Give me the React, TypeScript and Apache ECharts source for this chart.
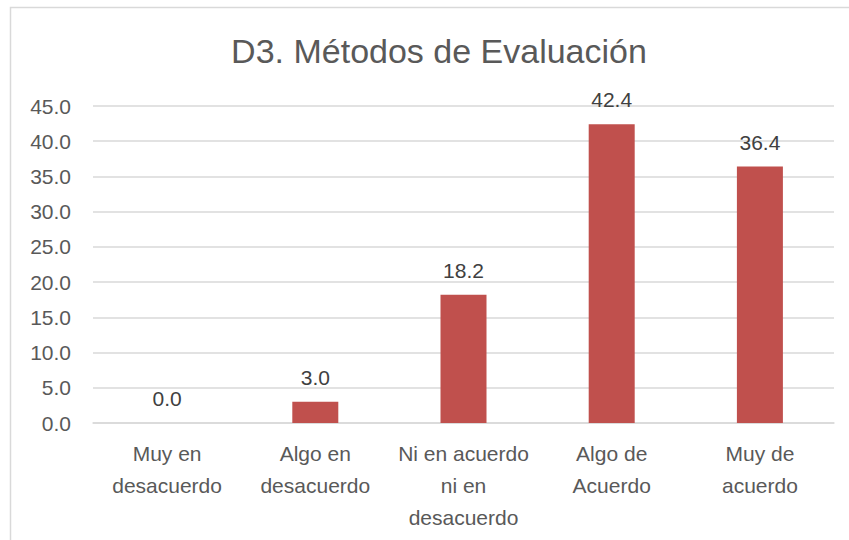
import React, { useEffect, useRef } from "react";
import * as echarts from "echarts";

const categories = [
  "Muy en\ndesacuerdo",
  "Algo en\ndesacuerdo",
  "Ni en acuerdo\nni en\ndesacuerdo",
  "Algo de\nAcuerdo",
  "Muy de\nacuerdo",
];
const values = [0.0, 3.0, 18.2, 42.4, 36.4];
const titleText = "D3. Métodos de Evaluación";
const yMin = 0;
const yMax = 45;
const yStep = 5;

const FONT = "'Liberation Sans', Arial, sans-serif";

export default function App() {
  const ref = useRef<HTMLDivElement>(null);
  useEffect(() => {
    if (!ref.current) return;
    const chart = echarts.init(ref.current, undefined, { renderer: "svg" });
    chart.setOption({
      animation: false,
      backgroundColor: "#ffffff",
      textStyle: { fontFamily: FONT },
      graphic: [
        {
          type: "rect",
          shape: { x: 10.5, y: 7.5, width: 900, height: 600 },
          style: { fill: "none", stroke: "#d9d9d9", lineWidth: 1.5 },
          silent: true,
          z: -1,
        },
        {
          type: "text",
          x: 439,
          y: 51,
          style: {
            text: titleText,
            fontFamily: FONT,
            fontSize: 34,
            fill: "#595959",
            textAlign: "center",
            textVerticalAlign: "middle",
          },
        },
      ],
      grid: { left: 93, right: 15, top: 106, bottom: 117, containLabel: false },
      xAxis: {
        type: "category",
        data: categories,
        axisLine: { show: true, lineStyle: { color: "#d9d9d9", width: 1.5 } },
        axisTick: { show: false },
        axisLabel: {
          interval: 0,
          margin: 14,
          fontFamily: FONT,
          fontSize: 21,
          lineHeight: 32,
          color: "#595959",
        },
      },
      yAxis: {
        type: "value",
        min: yMin,
        max: yMax,
        interval: yStep,
        axisLine: { show: false },
        axisTick: { show: false },
        splitLine: { lineStyle: { color: "#d9d9d9", width: 1.5 } },
        axisLabel: {
          margin: 22,
          fontFamily: FONT,
          fontSize: 21,
          color: "#595959",
          formatter: (v: number) => v.toFixed(1),
        },
      },
      series: [
        {
          type: "bar",
          data: values,
          barWidth: 46,
          itemStyle: { color: "#C0504D" },
          label: {
            show: true,
            position: "top",
            distance: 14,
            fontFamily: FONT,
            fontSize: 21,
            color: "#404040",
            formatter: (p: any) => Number(p.value).toFixed(1),
          },
        },
      ],
    });
    return () => chart.dispose();
  }, []);
  return (
    <div
      ref={ref}
      style={{ position: "absolute", left: 0, top: 0, width: 849, height: 540 }}
    />
  );
}
